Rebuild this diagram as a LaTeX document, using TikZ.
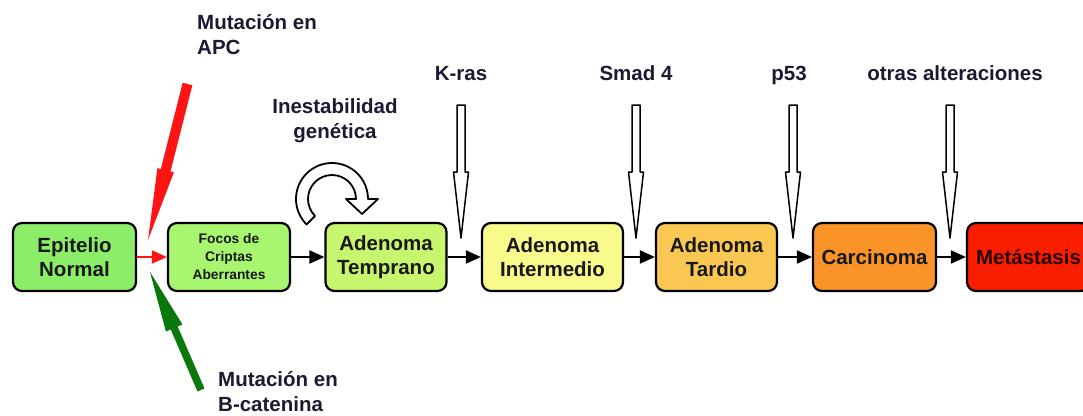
\documentclass[tikz,border=0pt]{standalone}
\usepackage{fontspec}
\setmainfont{Liberation Sans}
\usetikzlibrary{arrows.meta,calc}
\definecolor{cEpi}{RGB}{140,238,104}
\definecolor{cFoc}{RGB}{168,245,112}
\definecolor{cTem}{RGB}{200,245,110}
\definecolor{cInt}{RGB}{248,250,140}
\definecolor{cTar}{RGB}{250,200,82}
\definecolor{cCar}{RGB}{250,148,40}
\definecolor{cMet}{RGB}{250,30,0}
\definecolor{labcol}{RGB}{26,26,51}
\definecolor{boxtxt}{RGB}{24,24,24}
\definecolor{redarr}{RGB}{255,20,20}
\definecolor{greenarr}{RGB}{10,120,10}
\tikzset{
  box/.style={draw=black, line width=2.2pt, rounded corners=9pt, minimum height=68pt,
    inner sep=0pt, align=center, font=\bfseries\fontsize{20.5}{24}\selectfont, text=boxtxt},
  conn/.style={line width=2pt, -{Triangle[length=15pt,width=13pt]}},
  lab/.style={font=\bfseries\fontsize{20.5}{25}\selectfont, text=labcol, inner sep=0pt},
  hollowdown/.pic={\draw[line width=1.5pt, fill=white, line join=round]
    (-4,0) -- (-4,-67) -- (-7.5,-67) -- (0,-133) -- (7.5,-67) -- (4,-67) -- (4,0) -- cycle;}
}
\begin{document}
\begin{tikzpicture}[x=1pt,y=1pt]
\useasboundingbox (0,0) rectangle (1083,-415);
\clip (0,0) rectangle (1083,-415);
\fill[white] (0,0) rectangle (1083,-415);

% boxes
\node[box, fill=cEpi, minimum width=123pt] (A) at (74.5,-257) {Epitelio\\Normal};
\node[box, fill=cFoc, minimum width=122pt, font=\bfseries\fontsize{13.8}{18}\selectfont] (B) at (229,-257) {Focos de\\Criptas\\Aberrantes};
\node[box, fill=cTem, minimum width=121pt] (C) at (386,-257) {Adenoma\\Temprano};
\node[box, fill=cInt, minimum width=141pt] (D) at (552.5,-257) {Adenoma\\Intermedio};
\node[box, fill=cTar, minimum width=121pt] (E) at (716.5,-257) {Adenoma\\Tardio};
\node[box, fill=cCar, minimum width=123pt] (F) at (874.5,-257) {Carcinoma};
\node[box, fill=cMet, minimum width=123pt, text={rgb,255:red,40;green,0;blue,0}] (G) at (1028.5,-257) {Metástasis};

% connectors
\draw[conn, draw=redarr, fill=redarr, line width=1.8pt] (A) -- (B);
\draw[conn] (B) -- (C);
\draw[conn] (C) -- (D);
\draw[conn] (D) -- (E);
\draw[conn] (E) -- (F);
\draw[conn] (F) -- (G);

% mutation arrows (tapered solid arrows)
\coordinate (rt) at (187.5,-84);
\coordinate (rh) at (148,-240);
\coordinate (rb) at ($(rh)!72pt!(rt)$);
\fill[redarr] ($(rt)!5pt!90:(rh)$) -- ($(rb)!5pt!90:(rh)$) -- ($(rb)!8.5pt!90:(rh)$)
  -- (rh) -- ($(rb)!8.5pt!-90:(rh)$) -- ($(rb)!5pt!-90:(rh)$) -- ($(rt)!5pt!-90:(rh)$) -- cycle;
\coordinate (gt) at (201,-390);
\coordinate (gh) at (150,-272);
\coordinate (gb) at ($(gh)!61pt!(gt)$);
\fill[greenarr] ($(gt)!3.8pt!90:(gh)$) -- ($(gb)!3.8pt!90:(gh)$) -- ($(gb)!9pt!90:(gh)$)
  -- (gh) -- ($(gb)!9pt!-90:(gh)$) -- ($(gb)!3.8pt!-90:(gh)$) -- ($(gt)!3.8pt!-90:(gh)$) -- cycle;

% labels
\node[lab, align=left, anchor=west] (apc) at (197,-34.5) {Mutación en\\APC};
\node[lab, align=left, anchor=west] (bcat) at (218,-392) {Mutación en\\B-catenina};
\node[lab, align=center] (inest) at (335,-121) {Inestabilidad\\genética};
\node[lab, anchor=base] (kras) at (461,-80) {K-ras};
\node[lab, anchor=base] (smad) at (636,-80) {Smad 4};
\node[lab, anchor=base] (p53) at (789,-80) {p53};
\node[lab, anchor=base] (otras) at (955,-80) {otras alteraciones};

% hollow arrows
\pic at (461,-105) {hollowdown};
\pic at (636,-105) {hollowdown};
\pic at (793,-105) {hollowdown};
\pic at (950,-105) {hollowdown};

% circular arrow
\coordinate (cc) at (332,-199);
\draw[line width=1.8pt, fill=white, line join=round]
  ([shift={(225:36)}]cc) arc[start angle=225,end angle=0,radius=36]
  -- ++(10,0) -- ++(-16,-15) -- ++(-16,15) -- ++(10,0)
  arc[start angle=0,end angle=225,radius=24] -- cycle;
\end{tikzpicture}
\end{document}
